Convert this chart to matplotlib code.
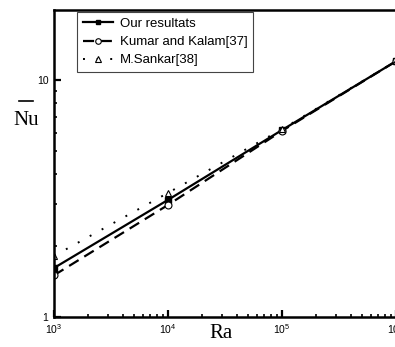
import numpy as np
import matplotlib.pyplot as plt
from matplotlib.ticker import LogLocator, NullFormatter
from matplotlib.lines import Line2D

plt.rcParams['font.family'] = ['Liberation Sans', 'DejaVu Sans']
plt.rcParams['mathtext.fontset'] = 'custom'
plt.rcParams['mathtext.rm'] = 'Liberation Sans'

# data
Ra = [1e3, 1e4, 1e5, 1e6]
nu_ours = [1.61, 3.12, 6.15, 12.0]
nu_kumar = [1.50, 2.97, 6.10, 12.0]
nu_sankar = [1.81, 3.34, 6.20, 12.0]
xticks = [1e3, 1e4, 1e5, 1e6]
xticklabels = [r'$\mathregular{10^3}$', r'$\mathregular{10^4}$', r'$\mathregular{10^5}$', r'$\mathregular{10^6}$']

fig = plt.figure(figsize=(3.95, 3.47), dpi=100)
ax = fig.add_axes([54/395, 1-317/347, 342/395, 307/347])

ax.plot(Ra, nu_ours, color='k', lw=1.6, ls='-', marker='s', ms=4,
        mfc='k', mec='k', label='Our resultats')
ax.plot(Ra, nu_kumar, color='k', lw=1.6, ls=(0, (5, 3)), marker='o', ms=5,
        mfc='white', mec='k', mew=0.8, label='Kumar and Kalam[37]')
ax.plot(Ra, nu_sankar, color='k', lw=1.4, ls=(0, (1, 6)), marker='^', ms=5,
        mfc='white', mec='k', mew=0.8, label='M.Sankar[38]')

ax.set_xscale('log')
ax.set_yscale('log')
ax.set_xlim(1e3, 1e6)
ax.set_ylim(1, 10**(307/237))

ax.set_xticks(xticks)
ax.set_xticklabels(xticklabels, fontsize=7.5)
ax.xaxis.set_minor_locator(LogLocator(base=10, subs=np.arange(2, 10)))
ax.xaxis.set_minor_formatter(NullFormatter())
ax.set_yticks([1, 10])
ax.set_yticklabels(['1', '10'], fontsize=7.5)
ax.yaxis.set_minor_locator(LogLocator(base=10, subs=np.arange(2, 10)))
ax.yaxis.set_minor_formatter(NullFormatter())

ax.tick_params(which='major', direction='in', length=5, width=1.6, pad=4)
ax.tick_params(which='minor', direction='in', length=2.5, width=1.2)
ax.tick_params(top=False, right=False, which='both')
for s in ax.spines.values():
    s.set_linewidth(1.8)

leg = ax.legend(loc='upper left', bbox_to_anchor=(0.067, 0.994), fontsize=9.5,
                fancybox=False, framealpha=1, edgecolor='#444444',
                handlelength=2.3, handletextpad=0.5, labelspacing=0.45,
                borderpad=0.45, borderaxespad=0, markerscale=0.8)
leg.get_frame().set_linewidth(0.8)

fig.text(221/395, 1-334/347, 'Ra', family='Liberation Serif', fontsize=15,
         ha='center', va='center')
fig.text(26/395, 1-120/347, 'Nu', family='Liberation Serif', fontsize=15,
         ha='center', va='center')
fig.add_artist(Line2D([19/395, 33/395], [1-101/347, 1-101/347],
                      transform=fig.transFigure, color='k', lw=1.2))

fig.savefig('out.png', dpi=100)
